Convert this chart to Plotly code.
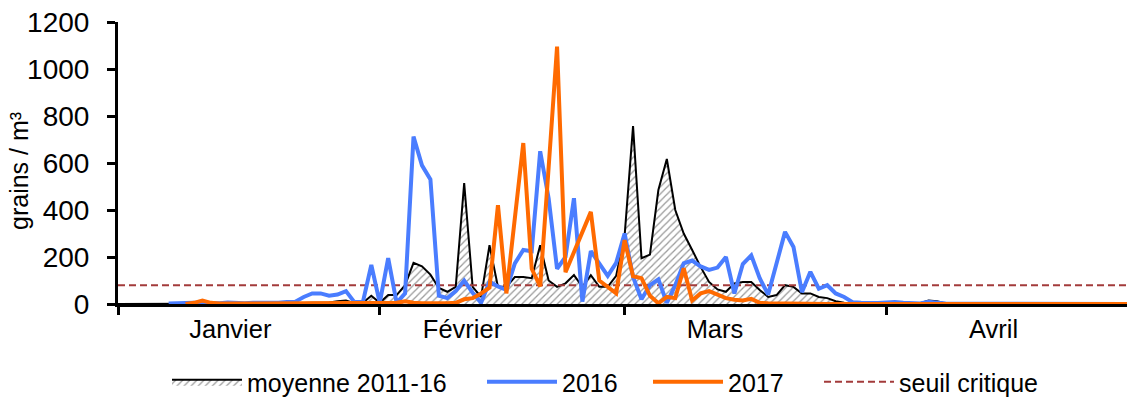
import plotly.graph_objects as go

# ---- data (day index 0 = 1 January; leap-year calendar) ----
days = list(range(121))

months = ["Janvier", "Février", "Mars", "Avril"]
month_starts = [0, 31, 60, 91]

moyenne = [0, 0, 0, 0, 0, 0, 1, 1, 2, 1, 1, 2, 2, 1, 2, 3, 2, 2, 3, 3,
           4, 3, 4, 5, 4, 6, 12, 15, 3, 5, 35, 5, 38, 38, 80, 175, 160, 125, 68, 52,
           73, 515, 73, 30, 250, 73, 73, 115, 115, 110, 250, 100, 73, 88, 123, 73, 123, 73, 73, 120,
           290, 757, 195, 210, 485, 617, 400, 300, 230, 158, 94, 62, 52, 88, 94, 94, 60, 30, 38, 80,
           73, 45, 45, 30, 25, 12, 5, 2, 1, 1, 1, 0, 0, 1, 2, 3, 15, 12, 2, 0,
           0, 0, 0, 0, 0, 0, 0, 0, 0, 0, 0, 0, 0, 0, 0, 0, 0, 0, 0, 0, 0]

y2016 = [None, None, None, None, None, None, 2, 4, 3, 5, 4, 2, 3, 6, 4, 3, 5, 4, 6, 5,
         8, 10, 30, 45, 45, 35, 40, 55, 8, 8, 166, 5, 195, 5, 45, 712, 590, 530, 35, 25,
         55, 100, 48, 5, 95, 75, 60, 173, 230, 225, 650, 450, 150, 200, 450, 10, 225, 175, 120, 175,
         300, 115, 20, 80, 105, 5, 80, 173, 185, 160, 145, 155, 200, 45, 170, 207, 110, 40, 180, 307,
         243, 50, 137, 65, 80, 45, 30, 8, 5, 3, 4, 6, 8, 5, 3, 2, 10, 5, 2, 1,
         1, 2, 1, 0, 0, 1, 0, 0, 0, 0, 0, 0, 0, 0, 0, 0, 0, 0, 0, 0, 0]

y2017 = [None, None, None, None, None, None, None, None, 0, 5, 15, 5, 2, 2, 3, 2, 2, 3, 2, 2,
         2, 3, 2, 2, 2, 3, 2, 2, 2, 3, 2, 2, 3, 5, 12, 5, 3, 2, 2, 3,
         5, 20, 25, 45, 70, 420, 45, 360, 685, 150, 75, 580, 1095, 135, 220, 305, 392, 100, 73, 45,
         272, 118, 110, 35, 3, 30, 25, 152, 15, 45, 55, 40, 25, 18, 15, 22, 5, 3, 2, 1,
         1, 1, 0, 0, 0, 0, 0, 0, 0, 0, 0, 0, 0, 0, 0, 0, 0, 0, 0, 0,
         0, 0, 0, 0, 0, 0, 0, 0, 0, 0, 0, 0, 0, 0, 0, 0, 0, 0, 0, 0, 0]

seuil = 80

# ---- layout constants ----
month_label_pos = [13.3, 40.8, 70.7, 103.7]
FONT = "Arial, Liberation Sans, sans-serif"
BLUE = "#4a7dff"
ORANGE = "#ff6a00"
RED = "#a33b3b"
W, H, L, T, B = 1127, 400, 118, 22, 96
PW = W - L
PH = H - T - B

fig = go.Figure()

fig.add_trace(go.Scatter(
    x=days, y=moyenne, mode="lines", name="moyenne 2011-16",
    line=dict(color="black", width=2),
    fill="tozeroy", fillcolor="white",
    fillpattern=dict(shape="/", fgcolor="#333333", bgcolor="white", size=5, solidity=0.25),
    legend="legend"))

fig.add_trace(go.Scatter(
    x=[days[0], days[-1]], y=[seuil, seuil], mode="lines", name="seuil critique",
    line=dict(color=RED, width=2, dash="7px,4px"), legend="legend4"))

fig.add_trace(go.Scatter(
    x=days, y=y2016, mode="lines", name="2016",
    line=dict(color=BLUE, width=4), legend="legend2"))

fig.add_trace(go.Scatter(
    x=days, y=y2017, mode="lines", name="2017",
    line=dict(color=ORANGE, width=4), legend="legend3"))


def legend_at(px):
    return dict(orientation="h", xref="container", yref="container",
                x=px / W, y=1 - 382 / H, xanchor="left", yanchor="middle",
                font=dict(family=FONT, size=25, color="black"),
                bgcolor="rgba(0,0,0,0)", itemwidth=70, tracegroupgap=0)


fig.update_layout(
    width=W, height=H,
    margin=dict(l=L, r=0, t=T, b=B, pad=0, autoexpand=False),
    paper_bgcolor="white", plot_bgcolor="white",
    font=dict(family=FONT, size=24, color="black"),
    showlegend=True,
    legend=legend_at(167),
    legend2=legend_at(482),
    legend3=legend_at(648),
    legend4=legend_at(819),
    xaxis=dict(
        range=[0, 119.5], showgrid=False, zeroline=False, automargin=False,
        showline=True, linecolor="black", linewidth=3,
        tickmode="array", tickvals=month_label_pos, ticktext=months,
        ticks="", tickfont=dict(family=FONT, size=25.5, color="black"),
        minor=dict(tickmode="array", tickvals=month_starts, ticks="outside",
                   ticklen=8, tickwidth=3, tickcolor="black", showgrid=False),
    ),
    yaxis=dict(
        range=[0, 1200], showgrid=False, zeroline=False, automargin=False,
        showline=True, linecolor="black", linewidth=3,
        tickmode="array", tickvals=[0, 200, 400, 600, 800, 1000, 1200],
        ticks="outside", ticklen=8, tickwidth=3, tickcolor="black",
        ticklabelstandoff=12,
        tickfont=dict(family=FONT, size=28, color="black"),
    ),
    annotations=[dict(
        text="grains / m³", textangle=-90, xref="paper", yref="paper",
        x=(19 - L) / PW, y=(304 - 171) / PH, xanchor="center", yanchor="middle",
        showarrow=False, font=dict(family=FONT, size=25, color="black"))],
)

fig.write_html(
    "out.html",
    config={"displayModeBar": False},
    post_script="document.body.style.margin='0';document.body.style.overflow='hidden';",
)
